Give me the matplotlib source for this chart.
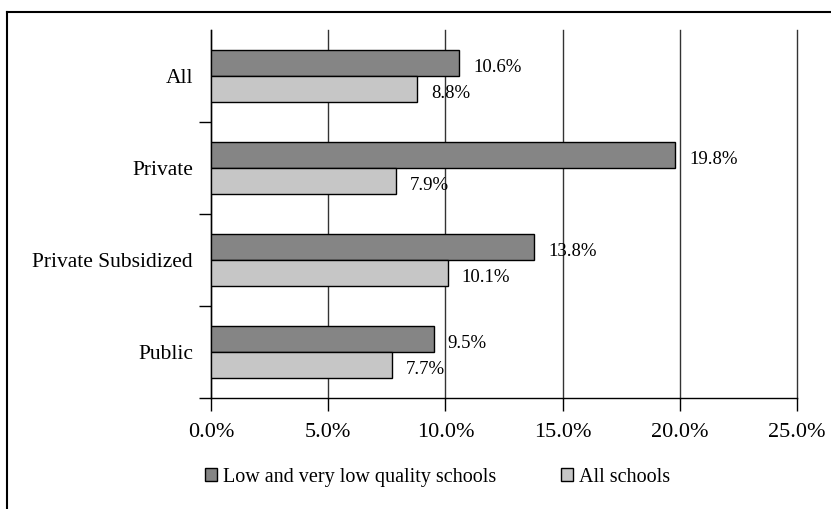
"""Horizontal bar chart: share of students by school type."""
import matplotlib
matplotlib.use("Agg")
import matplotlib.pyplot as plt
from matplotlib.lines import Line2D
from matplotlib.ticker import FuncFormatter
import numpy as np

categories = ["All", "Private", "Private Subsidized", "Public"]
low_quality = [10.6, 19.8, 13.8, 9.5]
all_schools = [8.8, 7.9, 10.1, 7.7]
series_names = ["Low and very low quality schools", "All schools"]

plt.rcParams["font.family"] = ["Liberation Serif", "DejaVu Serif"]

fig = plt.figure(figsize=(8.31, 5.09), dpi=100)
ax = fig.add_axes([0.254, 0.218, 0.705, 0.723])

y = np.arange(len(categories))
h = 0.283
b1 = ax.barh(y - h / 2, low_quality, height=h, color="#858585",
             edgecolor="black", linewidth=1, label=series_names[0], zorder=3)
b2 = ax.barh(y + h / 2, all_schools, height=h, color="#c6c6c6",
             edgecolor="black", linewidth=1, label=series_names[1], zorder=3)

for bars, vals in [(b1, low_quality), (b2, all_schools)]:
    for bar, v in zip(bars, vals):
        ax.annotate(f"{v:.1f}%", (v, bar.get_y() + bar.get_height() / 2),
                    xytext=(10, -3), textcoords="offset points",
                    ha="left", va="center", fontsize=13.5, zorder=4)

ax.set_xlim(0, 25)
ax.set_ylim(3.5, -0.5)
ax.set_xticks(np.arange(0, 26, 5))
ax.xaxis.set_major_formatter(FuncFormatter(lambda v, p: f"{v:.1f}%"))
ax.tick_params(axis="x", direction="out", length=9, width=1, pad=9,
               labelsize=16)
ax.grid(axis="x", color="#333333", linewidth=1, zorder=0)
for gl in ax.get_xgridlines():
    gl.set_clip_on(False)

ax.set_yticks(y)
ax.set_yticklabels(categories)
ax.set_yticks(np.arange(0.5, 4, 1), minor=True)
ax.tick_params(axis="y", which="major", length=0, pad=13, labelsize=15.5)
ax.tick_params(axis="y", which="minor", direction="out", length=9, width=1)

for s in ["top", "right"]:
    ax.spines[s].set_visible(False)
ax.spines["left"].set_linewidth(1)
ax.spines["bottom"].set_linewidth(1)

ax.legend(loc="center", bbox_to_anchor=(0.387, -0.215), ncol=2,
          frameon=False, fontsize=14.5, handlelength=0.6, handleheight=0.6,
          handletextpad=0.3, columnspacing=3.2)

# outer frame (only top and left edges fall inside the image)
fig.add_artist(Line2D([7 / 831, 7 / 831], [0, 1 - 12 / 509], color="black",
                      linewidth=1.5, transform=fig.transFigure))
fig.add_artist(Line2D([7 / 831, 1], [1 - 12 / 509, 1 - 12 / 509],
                      color="black", linewidth=1.5, transform=fig.transFigure))

fig.savefig("out.png", dpi=100)
